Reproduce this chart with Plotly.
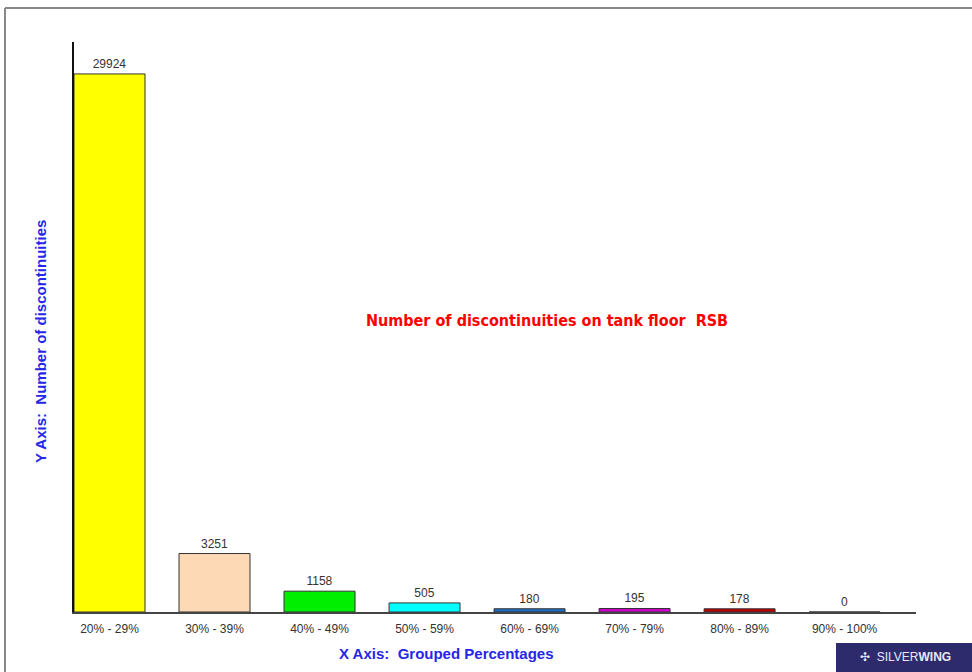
import plotly.graph_objects as go

# Discontinuity counts per wall-loss band
categories = ["20% - 29%", "30% - 39%", "40% - 49%", "50% - 59%",
              "60% - 69%", "70% - 79%", "80% - 89%", "90% - 100%"]
counts = [29924, 3251, 1158, 505, 180, 195, 178, 0]
bar_colors = ["#ffff00", "#fdd9b5", "#00ee00", "#00ffff",
              "#1f6fc4", "#cc00cc", "#c00000", "#888888"]

W, H = 972, 672
L, R, T, B = 74, 56, 42, 60
pw, ph = W - L - R, H - T - B


def px(x):
    return (x - L) / pw


def py(y):
    return (H - B - y) / ph


fig = go.Figure(go.Bar(
    x=list(range(len(categories))),
    y=counts,
    width=0.676,
    marker=dict(color=bar_colors, line=dict(color="#333333", width=1)),
    text=[str(v) for v in counts],
    textposition="outside",
    cliponaxis=False,
    textfont=dict(family="Liberation Sans, Arial", size=12, color="#333333"),
))

fig.update_layout(
    width=W, height=H,
    margin=dict(l=L, r=R, t=T, b=B),
    paper_bgcolor="white",
    plot_bgcolor="white",
    showlegend=False,
    xaxis=dict(
        range=[-0.338, 7.68],
        tickmode="array",
        tickvals=list(range(len(categories))),
        ticktext=categories,
        ticks="",
        ticklabelstandoff=5,
        showgrid=False,
        zeroline=False,
        showline=True,
        linecolor="#444444",
        linewidth=2,
        tickfont=dict(family="Liberation Sans, Arial", size=12, color="#333333"),
    ),
    yaxis=dict(
        range=[0, 31700],
        showticklabels=False,
        ticks="",
        showgrid=False,
        zeroline=False,
        showline=True,
        linecolor="#111111",
        linewidth=1.5,
    ),
    shapes=[
        # page frame
        dict(type="line", xref="paper", yref="paper",
             x0=px(5), y0=py(8), x1=px(975), y1=py(8),
             line=dict(color="#888888", width=2)),
        dict(type="line", xref="paper", yref="paper",
             x0=px(5), y0=py(8), x1=px(5), y1=py(675),
             line=dict(color="#888888", width=2)),
        # company badge
        dict(type="rect", xref="paper", yref="paper",
             x0=px(836), y0=py(643), x1=px(975), y1=py(675),
             fillcolor="#2d2b6b", line=dict(width=0)),
    ],
    annotations=[
        dict(text="<b>Number of discontinuities on tank floor  RSB</b>",
             xref="paper", yref="paper", x=px(547), y=py(320),
             xanchor="center", yanchor="middle", showarrow=False,
             font=dict(family="DejaVu Sans Condensed, Liberation Sans Narrow, Arial Narrow",
                       size=16, color="#ff0000")),
        dict(text="<b>Y Axis:  Number of discontinuities</b>",
             xref="paper", yref="paper", x=px(40), y=py(342),
             xanchor="center", yanchor="middle",
             textangle=-90, showarrow=False,
             font=dict(family="Liberation Sans, Arial", size=15, color="#2626e8")),
        dict(text="<b>X Axis:  Grouped Percentages</b>",
             xref="paper", yref="paper", x=px(446), y=py(653),
             xanchor="center", yanchor="middle", showarrow=False,
             font=dict(family="Liberation Sans, Arial", size=15, color="#2626e8")),
        dict(text="✣  SILVER<b>WING</b>",
             xref="paper", yref="paper", x=px(905), y=py(657),
             xanchor="center", yanchor="middle", showarrow=False,
             font=dict(family="Liberation Sans, Arial", size=12, color="#e8e8f4")),
    ],
)

fig.write_html("out.html")
